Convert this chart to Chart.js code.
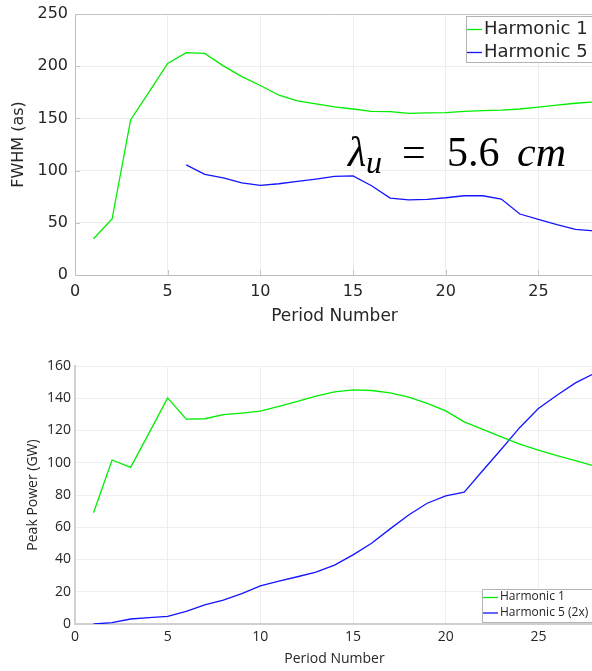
<!DOCTYPE html>
<html><head><meta charset="utf-8">
<script src="https://cdn.jsdelivr.net/npm/chart.js@4/dist/chart.umd.min.js"></script>
<style>
html,body{margin:0;padding:0;background:#fff;overflow:hidden;width:592px;height:671px;}
.wrap{position:absolute;left:0;width:592px;overflow:hidden;}
#w1{top:0;height:335px;}
#w2{top:335px;height:336px;}
canvas{display:block;}
</style></head><body>
<div class="wrap" id="w1"><canvas id="c1" width="594" height="335"></canvas></div>
<div class="wrap" id="w2"><canvas id="c2" width="594" height="336"></canvas></div>
<script>
// ---- data ----
const periods = [1,2,3,4,5,6,7,8,9,10,11,12,13,14,15,16,17,18,19,20,21,22,23,24,25,26,27,28];
const fwhmH1 = [34.7,53.6,148.5,175.4,202.6,213,212.2,200.3,190,181.5,172.2,166.8,163.9,161,159,156.8,156.4,154.8,155.3,155.5,156.8,157.4,157.9,159,160.8,162.8,164.5,165.8];
const fwhmH5 = [null,null,null,null,null,105.5,96.4,93.1,88.3,85.8,87.4,89.7,91.9,94.4,95,85.5,73.7,72,72.5,74,75.9,75.9,72.7,58.4,53.3,48.2,43.7,42.2];
const powerH1 = [69,101.7,97.1,118.5,140.2,127,127.3,129.8,130.8,132,135,138,141.3,143.9,145.2,144.8,143.3,140.7,136.8,132.2,125.4,120.7,116.1,111.6,107.9,104.4,101.3,98];
const powerH5 = [0,0.8,3.1,3.9,4.7,7.8,11.8,14.8,18.9,23.7,26.6,29.3,32.2,36.5,42.9,50.1,59,67.6,74.9,79.4,81.7,95.2,108.4,121.9,133.6,141.9,149.5,155.3];
const seriesNamesTop = ['Harmonic 1','Harmonic 5'];
const seriesNamesBottom = ['Harmonic 1','Harmonic 5 (2x)'];
const xTicksStep = 5;
const fwhmTickStep = 50;
const powerTickStep = 20;
const annotationParts = ['λ','u','=','5.6','cm'];

const GREEN = 'rgb(0,238,0)';
const BLUE = 'rgb(20,20,255)';
const TXT = '#262626';

const pts = ys => periods.map((p,i)=>({x:p, y:ys[i]}));

const boxLegend = {
  id:'boxLegend',
  afterDraw(chart, args, o){
    if(!o || !o.rows) return;
    const ctx = chart.ctx; ctx.save();
    ctx.fillStyle='#fff'; ctx.fillRect(o.x,o.y,o.w,o.h);
    ctx.strokeStyle='#b4b4b4'; ctx.lineWidth=1; ctx.strokeRect(o.x+0.5,o.y+0.5,o.w,o.h);
    ctx.font=o.font; ctx.textBaseline='middle'; ctx.textAlign='left';
    chart.data.datasets.forEach((ds,i)=>{
      const y=o.rows[i];
      ctx.strokeStyle=ds.borderColor; ctx.lineWidth=1.3;
      ctx.beginPath(); ctx.moveTo(o.lx0,y+0.5); ctx.lineTo(o.lx1,y+0.5); ctx.stroke();
      ctx.fillStyle=TXT; ctx.fillText(ds.label,o.tx,y);
    });
    ctx.restore();
  }
};

const inTicks = {
  id:'inTicks',
  beforeDatasetsDraw(chart, args, o){
    if(!o || !o.len) return;
    const ctx=chart.ctx, a=chart.chartArea; ctx.save();
    ctx.strokeStyle=o.color; ctx.lineWidth=1;
    const xs=chart.scales.x, ys=chart.scales.y;
    xs.ticks.forEach(t=>{const px=Math.round(xs.getPixelForValue(t.value))+0.5;
      ctx.beginPath(); ctx.moveTo(px,a.bottom); ctx.lineTo(px,a.bottom-o.len); ctx.stroke();});
    ys.ticks.forEach(t=>{const py=Math.round(ys.getPixelForValue(t.value))+0.5;
      ctx.beginPath(); ctx.moveTo(a.left,py); ctx.lineTo(a.left+o.len,py); ctx.stroke();});
    if(o.topBorder){ctx.beginPath(); ctx.moveTo(a.left,Math.round(a.top)+0.5); ctx.lineTo(a.right,Math.round(a.top)+0.5); ctx.stroke();}
    ctx.restore();
  }
};

const annot = {
  id:'annot',
  afterDraw(chart, args, o){
    if(!o || !o.on) return;
    const ctx=chart.ctx; ctx.save(); ctx.fillStyle='#000'; ctx.textBaseline='alphabetic'; ctx.textAlign='left';
    ctx.font='italic 42px "Liberation Serif"'; ctx.fillText(annotationParts[0],348,166);
    ctx.font='italic 32px "Liberation Serif"'; ctx.fillText(annotationParts[1],366,173);
    ctx.font='42px "Liberation Serif"'; ctx.fillText(annotationParts[2],402,166); ctx.fillText(annotationParts[3],447,166);
    ctx.font='italic 42px "Liberation Serif"'; ctx.fillText(annotationParts[4],517,166);
    ctx.restore();
  }
};

const keepFives = s => { s.ticks = s.ticks.filter(t => Math.abs(t.value % xTicksStep) < 1e-9); };
const fitY = s => { s.width = 75; s.paddingTop = 0; s.paddingBottom = 0; };
const fitX = h => s => { s.height = h; s.paddingLeft = 0; s.paddingRight = 0; };

function lineDs(label, data, color){
  return {label, data, borderColor:color, backgroundColor:color, borderWidth:1.3, pointRadius:0, tension:0, fill:false, spanGaps:false};
}

// ---- top chart ----
new Chart(document.getElementById('c1'), {
  type:'line',
  data:{datasets:[lineDs(seriesNamesTop[0], pts(fwhmH1), GREEN), lineDs(seriesNamesTop[1], pts(fwhmH5), BLUE)]},
  options:{
    responsive:false, animation:false, devicePixelRatio:1,
    layout:{padding:{top:14,left:0,right:0,bottom:0}},
    plugins:{legend:{display:false}, tooltip:{enabled:false},
      boxLegend:{x:466,y:16,w:130,h:46,lx0:467,lx1:482,tx:484,rows:[29,52],font:'18px "DejaVu Sans"'},
      inTicks:{len:5,color:'#c4c4c4',topBorder:true},
      annot:{on:true}},
    scales:{
      x:{type:'linear', min:0, max:28, afterBuildTicks:keepFives, afterFit:fitX(60),
        ticks:{stepSize:xTicksStep, maxRotation:0, padding:7, color:TXT, font:{family:'DejaVu Sans', size:16}},
        grid:{color:'#ededed', drawTicks:false}, border:{color:'#bdbdbd'},
        title:{display:true, text:'Period Number', color:TXT, font:{family:'DejaVu Sans', size:17}, padding:{top:0,bottom:8}}},
      y:{min:0, max:250, afterFit:fitY,
        ticks:{stepSize:fwhmTickStep, padding:7, color:TXT, font:{family:'DejaVu Sans', size:16}},
        grid:{color:'#ededed', drawTicks:false}, border:{color:'#bdbdbd'},
        title:{display:true, text:'FWHM (as)', color:TXT, font:{family:'DejaVu Sans', size:16}, padding:{top:9,bottom:0}}}
    }
  },
  plugins:[inTicks, boxLegend, annot]
});

// ---- bottom chart ----
new Chart(document.getElementById('c2'), {
  type:'line',
  data:{datasets:[lineDs(seriesNamesBottom[0], pts(powerH1), GREEN), lineDs(seriesNamesBottom[1], pts(powerH5), BLUE)]},
  options:{
    responsive:false, animation:false, devicePixelRatio:1,
    layout:{padding:{top:31,left:0,right:0,bottom:0}},
    plugins:{legend:{display:false}, tooltip:{enabled:false},
      boxLegend:{x:482,y:254,w:112,h:33,lx0:483,lx1:498,tx:500,rows:[262,277.5],font:'12px "Open Sans"'}},
    scales:{
      x:{type:'linear', min:0, max:28, afterBuildTicks:keepFives, afterFit:fitX(47),
        ticks:{stepSize:xTicksStep, maxRotation:0, padding:5, color:TXT, font:{family:'Open Sans', size:14}},
        grid:{color:'#eeeeee', drawTicks:false}, border:{color:'#d0d0d0', width:2},
        title:{display:true, text:'Period Number', color:TXT, font:{family:'Open Sans', size:14}, padding:{top:0,bottom:4}}},
      y:{min:0, max:160, afterFit:fitY,
        ticks:{stepSize:powerTickStep, padding:4, color:TXT, font:{family:'Open Sans', size:14}},
        grid:{color:'#eeeeee', drawTicks:false}, border:{color:'#d0d0d0', width:2},
        title:{display:true, text:'Peak Power (GW)', color:TXT, font:{family:'Open Sans', size:14}, padding:{top:25,bottom:0}}}
    }
  },
  plugins:[boxLegend]
});
</script>
</body></html>
